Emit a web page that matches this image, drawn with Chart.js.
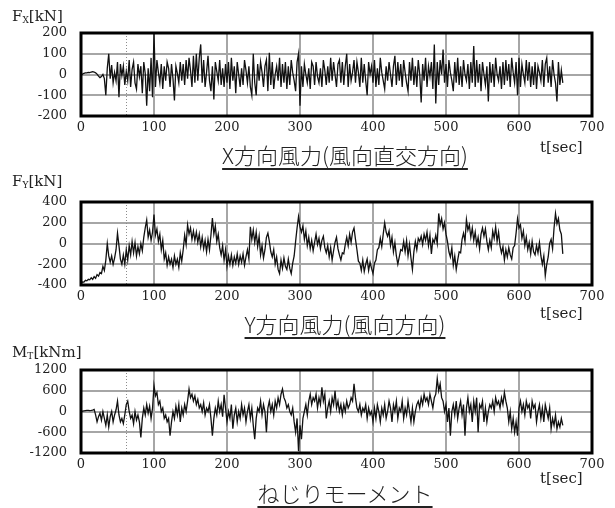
<!DOCTYPE html>
<html>
<head>
<meta charset="utf-8">
<script src="https://cdn.jsdelivr.net/npm/chart.js@4"></script>
<style>
  body { margin: 0; background: #fff; }
  #wrap { position: relative; width: 615px; height: 508px; overflow: hidden; font-family: "DejaVu Serif", serif; color: #222; }
  canvas { position: absolute; left: 0; }
  .unit { position: absolute; left: 12px; font-size: 15px; line-height: 15px; white-space: nowrap; }
  .unit sub { font-size: 9px; vertical-align: -2px; }
  .tsec { position: absolute; left: 540px; font-size: 15px; line-height: 15px; }
  .title { position: absolute; left: 345px; transform: translateX(-50%); white-space: nowrap;
           font-family: "Noto Sans CJK JP", sans-serif; font-weight: 300; font-size: 22px; line-height: 24px;
           text-decoration: underline; text-decoration-thickness: 1.5px; text-underline-offset: 4px; }
</style>
</head>
<body>
<div id="wrap">
  <canvas id="fxChart" width="615" height="168" style="top:0"></canvas>
  <canvas id="fyChart" width="615" height="168" style="top:169px"></canvas>
  <canvas id="mtChart" width="615" height="168" style="top:337px"></canvas>

  <div class="unit" style="top:9px">F<sub>X</sub>[kN]</div>
  <div class="unit" style="top:174px">F<sub>Y</sub>[kN]</div>
  <div class="unit" style="top:345px">M<sub>T</sub>[kNm]</div>

  <div class="tsec" style="top:140px">t[sec]</div>
  <div class="tsec" style="top:306px">t[sec]</div>
  <div class="tsec" style="top:471px">t[sec]</div>

  <div class="title" style="top:142px">X方向風力(風向直交方向)</div>
  <div class="title" style="top:311px">Y方向風力(風向方向)</div>
  <div class="title" style="top:480px">ねじりモーメント</div>
</div>
<script>
// readings every 2 seconds, from t = 0 to 660 sec
const SAMPLE_STEP = 2;
const xTicks = [0, 100, 200, 300, 400, 500, 600, 700];
const fxTicks = [-200, -100, 0, 100, 200];
const fyTicks = [-400, -200, 0, 200, 400];
const mtTicks = [-1200, -600, 0, 600, 1200];
const markerTime = 62;

const fx = [
  0, 2, 6, 8, 8, 10, 9, 12, 14, 12,
  8, 2, -8, -15, -10, 0, -20, -100, 30, 100,
  -20, 45, -40, 10, -30, 60, -110, 50, -5, 40,
  -50, 15, -30, 70, -60, 25, 60, -40, -70, 50,
  -10, 40, -90, 60, 5, -150, 30, -80, 80, -110,
  200, -60, 70, 10, -40, 50, -70, 40, -30, 60,
  30, -60, 50, -20, -125, 40, 5, -40, 60, -30,
  50, -50, 70, -20, 80, 20, -60, 90, -40, 100,
  -30, 80, 145, -40, 70, -60, 10, 90, -30, -80,
  40, -120, 60, 15, -30, 70, -50, 30, -60, 50,
  -40, 60, -70, 80, -30, 40, -90, 60, 0, -60,
  30, -50, 70, 20, -40, 40, -60, -100, 100, -40,
  -100, 50, -30, 60, 10, -60, 40, 70, -80, 105,
  -50, 60, -70, 0, 40, -30, 80, -60, 50, -40,
  60, -70, 40, -50, 70, 10, -30, -80, 60, 100,
  -150, 40, -60, 50, 0, -40, 30, -70, 60, 40,
  -50, 60, -10, -40, 30, -60, 70, 20, -50, 40,
  -40, 80, -30, 60, 0, -60, 50, 70, -40, 60,
  -50, 40, 100, -60, 50, -30, 10, 70, -40, 60,
  10, -60, 80, -40, 50, -30, -100, 60, 0, 40,
  -40, 70, -60, 30, -50, 80, 10, -30, -70, 40,
  -30, 60, 0, -60, 40, 90, -50, 60, -30, 50,
  -60, 70, 10, -40, -80, 60, -30, 80, -50, 40,
  -60, 70, 0, -135, 50, -30, 80, -60, 40, -10,
  60, -70, 145, -140, 60, -50, 70, 0, 120, -40,
  50, -60, 70, 10, -30, -80, 60, -40, 80, -50,
  40, -60, 70, 0, -30, 50, -70, 60, -40, 137,
  -60, 70, -40, 50, -80, 60, 0, -50, 40, -130,
  60, -40, 50, -60, 80, 0, -30, 40, -70, 60,
  -50, 70, -30, 50, -60, 80, 10, -40, 60, -100,
  80, -60, 50, 0, -40, 70, -30, 60, -60, 40,
  -50, 60, -70, 40, 10, -30, 70, -60, 50, 80,
  -40, 40, -60, 70, 0, -40, -130, 60, -50, 20,
  -40
];

const fy = [
  -390, -370, -372, -355, -360, -345, -350, -330, -345, -320,
  -335, -300, -315, -280, -290, -220, -260, -160, 0, -120,
  -180, -120, -200, -140, -60, 100, -20, -150, -200, -110,
  -200, -60, -160, -20, -110, 20, -90, 10, -120, -30,
  -100, 0, -70, 60, 150, 225, 60, 130, 30, 110,
  280, 80, 140, 20, 90, -60, 30, -150, -90, -210,
  -130, -200, -150, -230, -120, -200, -150, -230, -90, -170,
  -60, 80, -10, 180, 90, 150, 40, 120, 30, 110,
  10, 90, -30, 60, -50, 30, -80, 40, -60, 80,
  245, 90, 170, 20, 90, -40, -110, -20, -160, -60,
  -220, -120, -200, -110, -210, -130, -190, -100, -200, -120,
  -180, -100, -210, -130, -60, -150, 160, 40, 130, 10,
  110, -30, 70, -110, -20, -140, -60, 60, 100, 20,
  -80, -130, -60, -200, -130, -250, -290, -160, -240, -140,
  -220, -250, -150, -240, -290, -190, -120, 20, 150, 260,
  160, 110, 170, 40, 120, -20, 60, -50, 30, -70,
  10, 90, -10, 50, -50, 30, 70, -40, -90, -20,
  -130, -40, -160, -70, 10, 60, -50, -110, -160, -90,
  -100, -10, 60, -20, 90, 10, 110, 150, 40, -60,
  -170, -190, -260, -160, -270, -200, -150, -260, -180, -240,
  -290, -190, -160, -60, -40, 50, -30, 90, 200, 110,
  70, 120, -20, 60, -80, 10, -120, -200, -130, -60,
  -70, 20, -80, 30, -120, -10, -140, -250, -80, 20,
  -60, 50, 20, 70, -10, 90, 30, 110, -20, 80,
  -100, 40, 10, 80, 0, 290, 180, 240, 140, 200,
  90, 20, -80, -130, -40, -210, -120, -250, -160, -80,
  -90, 40, 100, 20, 230, 130, 180, 60, 150, 30,
  110, -10, 60, -50, 90, 150, 70, 140, 20, -60,
  30, -40, 120, 50, 160, 20, 110, -20, -90, -30,
  -160, -60, -130, -40, -110, -150, -40, -20, 100, 240,
  150, 180, 50, 120, -20, 60, -60, 10, -100, 20,
  -80, -110, -20, -90, 10, -120, -200, -120, -310, -200,
  -130, 0, 40, -50, 150, 290, 190, 240, 130, 90,
  -100
];

const mt = [
  0, 10, 20, 25, 30, 30, 25, 30, 40, 60,
  -100, -300, -150, -50, -250, 0, -200, -400, -100, -450,
  -150, 0, -300, -100, 50, 300, -100, -300, -200, -350,
  -100, 200, 300, 0, -200, -100, -350, 0, -250, -100,
  -300, -750, -200, 100, -100, 200, -50, 150, -200, 100,
  750, 450, 550, 200, 300, 0, 100, -200, -100, -300,
  -200, -700, -300, 0, -200, 150, -100, 200, -300, 100,
  -100, 200, 0, 300, 650, 400, 500, 300, 450, 200,
  350, 100, 200, 0, 250, -100, 100, 0, 200, -200,
  -700, -200, 100, -100, 300, 0, 200, -150, 480, 100,
  -300, 0, -200, 200, -500, -100, 100, -300, 0, -200,
  200, -100, 100, -300, 0, 200, -200, 100, -400, -800,
  -200, 100, 0, 300, -100, 200, 0, -600, 100, 300,
  0, 200, -100, 300, 100, 400, 200, 500, 650, 400,
  300, 100, 200, 0, -100, 100, -300, -600, -200, -1150,
  -400, -800, -200, 0, 200, -100, 300, 500, 200, 400,
  300, 500, 100, 400, 200, 700, 300, 500, -200, 100,
  300, 0, 400, 200, 600, 100, 300, 0, 200, -100,
  200, 0, 300, 100, 200, 400, 300, 800, 400, 100,
  0, 200, -100, 100, 0, 200, -200, 100, -100, 0,
  -300, 100, -200, 200, 0, -300, 100, -100, 200, -200,
  0, 300, 100, -300, 200, 0, 300, -200, 100, 0,
  300, -200, 100, -100, 300, 0, -300, 100, -300, 0,
  200, 300, 100, 400, 200, 500, 300, 400, 200, 500,
  300, 100, 400, 500, 950, 600, 800, 400, 300, 0,
  200, -300, 100, -700, 0, 200, -100, 300, -200, 100,
  300, -100, 200, -700, 100, 400, 0, 200, -300, 300,
  0, 400, -600, 200, 100, 300, -300, 100, -300, 0,
  200, 100, 300, 0, 400, 200, 300, 100, 400, 200,
  550, 300, 100, -300, 0, -500, -200, -600, -300, -700,
  100, 300, 0, 200, -100, 300, 100, 200, -200, 300,
  100, 200, -300, 0, 200, -200, 100, -300, 200, 0,
  -200, 100, -500, -200, -400, -100, -500, -300, -450, -200,
  -400
];

// thick black frame round the plot and the dotted marker line
const framePlugin = {
  id: 'frame',
  beforeDatasetsDraw(chart) {
    const { ctx, chartArea: a, scales: { x } } = chart;
    const px = Math.round(x.getPixelForValue(markerTime)) + 0.5;
    ctx.save();
    ctx.strokeStyle = '#8c8c8c';
    ctx.lineWidth = 1;
    ctx.setLineDash([1, 2]);
    ctx.beginPath();
    ctx.moveTo(px, a.top);
    ctx.lineTo(px, a.bottom);
    ctx.stroke();
    ctx.restore();
  },
  afterDatasetsDraw(chart) {
    const { ctx, chartArea: a } = chart;
    ctx.save();
    ctx.strokeStyle = '#000';
    ctx.lineWidth = 3;
    ctx.strokeRect(a.left, a.top, a.right - a.left, a.bottom - a.top);
    ctx.restore();
  }
};

const tickFont = { family: '"DejaVu Serif", serif', size: 13 };

function makeChart(id, values, yTicks) {
  const points = values.map((v, i) => ({ x: i * SAMPLE_STEP, y: v }));
  return new Chart(document.getElementById(id), {
    type: 'line',
    data: {
      datasets: [{
        data: points,
        borderColor: '#111',
        borderWidth: 1.3,
        pointRadius: 0,
        tension: 0,
      }]
    },
    options: {
      responsive: false,
      animation: false,
      devicePixelRatio: 1,
      layout: { padding: { top: 33, right: 23, left: 0, bottom: 0 } },
      plugins: { legend: { display: false }, tooltip: { enabled: false } },
      scales: {
        x: {
          type: 'linear',
          min: xTicks[0],
          max: xTicks[xTicks.length - 1],
          afterBuildTicks: axis => { axis.ticks = xTicks.map(v => ({ value: v })); },
          afterFit: axis => { axis.height = 52; },
          grid: { color: '#a6a6a6', lineWidth: 2, drawTicks: false },
          border: { display: false },
          ticks: { color: '#222', font: tickFont, padding: 4, maxRotation: 0, callback: v => String(v) },
        },
        y: {
          type: 'linear',
          min: yTicks[0],
          max: yTicks[yTicks.length - 1],
          afterBuildTicks: axis => { axis.ticks = yTicks.map(v => ({ value: v })); },
          afterFit: axis => { axis.width = 81; },
          grid: { color: '#a6a6a6', lineWidth: 2, drawTicks: false },
          border: { display: false },
          ticks: { color: '#222', font: tickFont, padding: 14, callback: v => String(v) },
        }
      }
    },
    plugins: [framePlugin]
  });
}

makeChart('fxChart', fx, fxTicks);
makeChart('fyChart', fy, fyTicks);
makeChart('mtChart', mt, mtTicks);
</script>
</body>
</html>
